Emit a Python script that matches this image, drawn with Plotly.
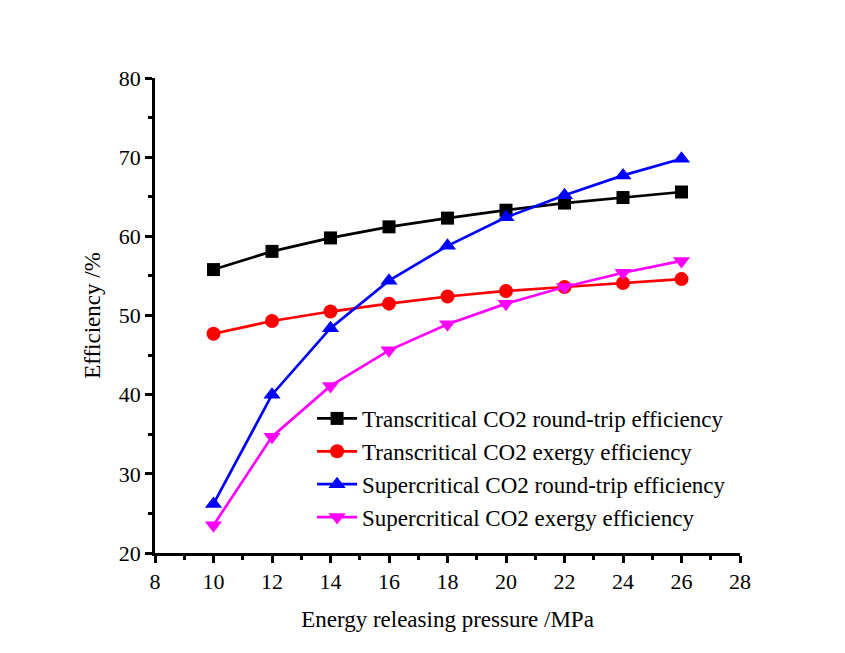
import plotly.graph_objects as go

pressure = [10, 12, 14, 16, 18, 20, 22, 24, 26]
trans_rte = [55.8, 58.1, 59.8, 61.2, 62.3, 63.3, 64.2, 64.9, 65.6]
trans_exergy = [47.7, 49.3, 50.5, 51.5, 52.4, 53.1, 53.6, 54.1, 54.6]
super_rte = [26.2, 40.0, 48.4, 54.4, 58.8, 62.4, 65.2, 67.7, 69.8]
super_exergy = [23.5, 34.7, 41.1, 45.6, 48.9, 51.5, 53.6, 55.4, 56.9]

x_ticks = [8, 10, 12, 14, 16, 18, 20, 22, 24, 26, 28]
y_ticks = [20, 30, 40, 50, 60, 70, 80]

series = [
    ("Transcritical CO2 round-trip efficiency", trans_rte, "#000000", "square", 13),
    ("Transcritical CO2 exergy efficiency", trans_exergy, "#ff0000", "circle", 14),
    ("Supercritical CO2 round-trip efficiency", super_rte, "#0000ff", "triangle-up", 15),
    ("Supercritical CO2 exergy efficiency", super_exergy, "#ff00ff", "triangle-down", 15),
]

fig = go.Figure()
for name, vals, color, symbol, size in series:
    fig.add_trace(go.Scatter(
        x=pressure, y=vals, name=name, mode="lines+markers",
        line=dict(color=color, width=2.7),
        marker=dict(symbol=symbol, size=size, color=color),
    ))

font_family = "Liberation Serif, Times New Roman, serif"
axis_common = dict(
    showline=True, linecolor="black", linewidth=2.5,
    ticks="outside", ticklen=7, tickwidth=2.5, tickcolor="black",
    showgrid=False, zeroline=False, mirror=False,
    tickfont=dict(family=font_family, size=22, color="black"),
)

fig.update_xaxes(
    range=[8, 28], tickvals=x_ticks,
    minor=dict(ticks="outside", ticklen=4, tickwidth=2.5, tickcolor="black", dtick=1, tick0=8),
    title=dict(text="Energy releasing pressure /MPa", font=dict(family=font_family, size=23, color="black"), standoff=18),
    **axis_common,
)
fig.update_yaxes(
    range=[20, 80], tickvals=y_ticks,
    minor=dict(ticks="outside", ticklen=4, tickwidth=2.5, tickcolor="black", dtick=5, tick0=20),
    title=dict(text="Efficiency /%", font=dict(family=font_family, size=23, color="black"), standoff=12),
    **axis_common,
)

fig.update_layout(
    width=845, height=653,
    margin=dict(l=155, r=105, t=78, b=100),
    paper_bgcolor="white", plot_bgcolor="white",
    showlegend=True,
    legend=dict(
        x=0.2685, y=0.3285, xanchor="left", yanchor="top",
        bgcolor="rgba(0,0,0,0)",
        font=dict(family=font_family, size=23, color="black"),
        itemwidth=40, tracegroupgap=0,
    ),
)

fig.write_html("out.html")
